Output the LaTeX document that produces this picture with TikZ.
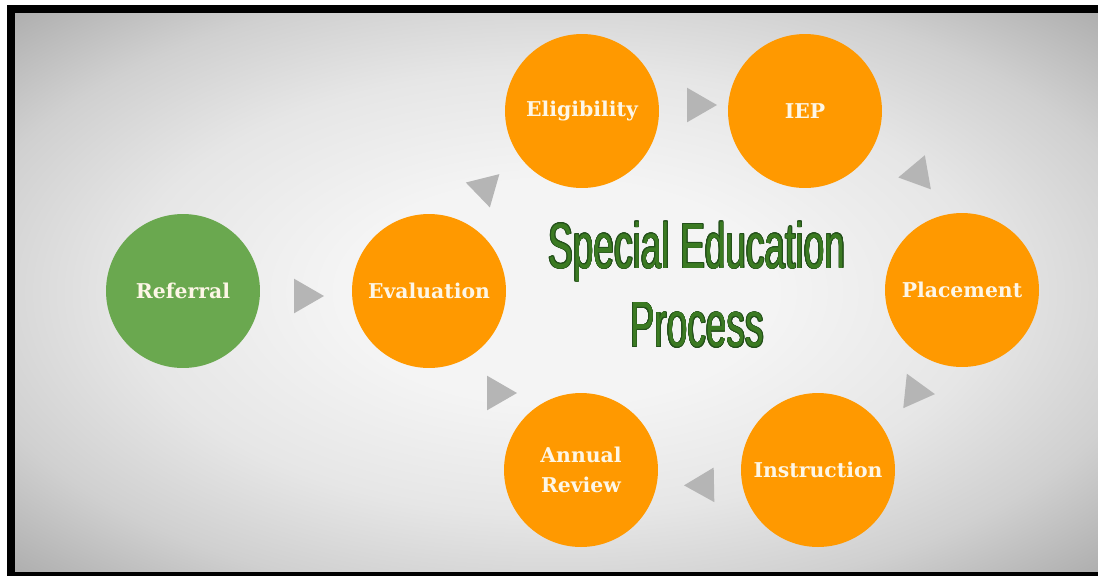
\documentclass[tikz,border=0pt]{standalone}
\usepackage{fontspec}
\usepackage[copies]{contour}
\usetikzlibrary{shapes.geometric}
\setmainfont{DejaVu Serif}
\newfontfamily\titlefont[FakeStretch=0.58]{Liberation Sans}
\definecolor{stageorange}{HTML}{FF9900}
\definecolor{stagegreen}{HTML}{6AA84F}
\definecolor{labelcream}{HTML}{FDF6E6}
\definecolor{trigray}{HTML}{B5B5B5}
\definecolor{titlegreen}{HTML}{3B7A22}
\definecolor{titleline}{HTML}{23501A}
\definecolor{bgcenter}{HTML}{F4F4F4}
\definecolor{bgmid}{HTML}{E6E6E6}
\definecolor{bgedge}{HTML}{D0D0D0}
\definecolor{bgcorner}{HTML}{9A9A9A}
\pgfdeclareradialshading{vignette}{\pgfpoint{0bp}{0bp}}{color(0bp)=(bgcenter); color(10bp)=(bgcenter); color(20bp)=(bgmid); color(28bp)=(bgedge); color(40bp)=(bgcorner); color(50bp)=(bgcorner)}
\contourlength{0.35pt}

\begin{document}
\begin{tikzpicture}[x=0.02cm,y=-0.02cm,
        stage/.style={circle,fill=stageorange,text=labelcream,minimum size=3.08cm,inner sep=0pt,
                align=center,font=\bfseries\fontsize{11.6}{17}\selectfont},
        arrowtri/.style={regular polygon,regular polygon sides=3,fill=trigray,minimum size=0.8cm,inner sep=0pt}]
        \useasboundingbox (0,0) rectangle (1098,576);
        \fill[white] (0,0) rectangle (1098,576);
        \fill[black] (7,5) rectangle (1098,576);
        \shade[shading=vignette] (15,13) rectangle (1098,571);
        \node[stage,fill=stagegreen] (ref) at (183,291) {Referral};
        \node[stage] (eval) at (429,291) {Evaluation};
        \node[stage] (elig) at (582,111) {Eligibility};
        \node[stage] (iep) at (805,111) {IEP};
        \node[stage] (place) at (962,290) {Placement};
        \node[stage] (instr) at (818,470) {Instruction};
        \node[stage] (review) at (581,470) {Annual\\Review};
        \node[arrowtri,rotate=-90] (tri1) at (304,296) {};
        \node[arrowtri,rotate=-46] (tri2) at (485,188) {};
        \node[arrowtri,rotate=-90] (tri3) at (697,105) {};
        \node[arrowtri,rotate=-20] (tri4) at (918,174) {};
        \node[arrowtri,rotate=-96] (tri5) at (915,392) {};
        \node[arrowtri,rotate=91] (tri6) at (704,485) {};
        \node[arrowtri,rotate=-90] (tri7) at (497,393) {};
        \node[text=titlegreen,align=center,inner sep=0pt,
                font=\titlefont\fontsize{36.4}{44.8}\selectfont] (title) at (697,285)
                {\contour{titleline}{Special Education}\\\contour{titleline}{Process}};
      \end{tikzpicture}
\end{document}
